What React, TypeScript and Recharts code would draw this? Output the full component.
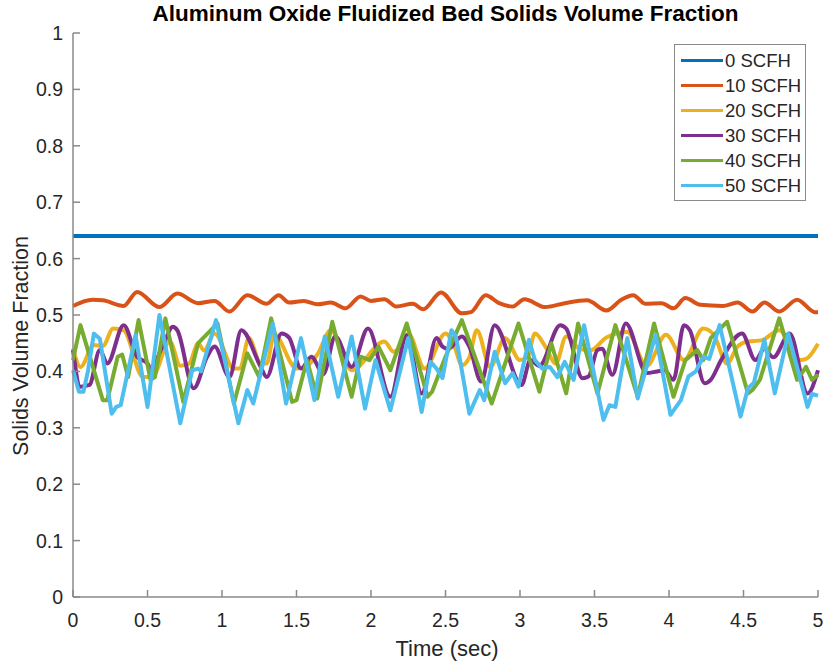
import { LineChart, Line, XAxis, YAxis } from "recharts"

const TIME_TICKS = [0, 0.5, 1, 1.5, 2, 2.5, 3, 3.5, 4, 4.5, 5]
const FRACTION_TICKS = [0, 0.1, 0.2, 0.3, 0.4, 0.5, 0.6, 0.7, 0.8, 0.9, 1]

const SERIES_NAMES = ["0 SCFH", "10 SCFH", "20 SCFH", "30 SCFH", "40 SCFH", "50 SCFH"]
const COLORS = ["#0072BD", "#D95319", "#EDB120", "#7E2F8E", "#77AC30", "#4DBEEE"]
const CURVES = ["linear", "monotone", "monotone", "monotone", "linear", "linear"] as const

// [time (sec), solids volume fraction]
const scfh0 = [[0, 0.64], [5, 0.64]]

const scfh10 = [
  [0, 0.516], [0.13, 0.527], [0.2, 0.526], [0.34, 0.516], [0.43, 0.541], [0.58, 0.514],
  [0.7, 0.538], [0.84, 0.521], [0.95, 0.525], [1.05, 0.506], [1.17, 0.535], [1.3, 0.52],
  [1.38, 0.535], [1.45, 0.522], [1.55, 0.525], [1.64, 0.519], [1.73, 0.522], [1.83, 0.512],
  [1.93, 0.533], [2.0, 0.525], [2.09, 0.528], [2.17, 0.515], [2.28, 0.52], [2.35, 0.51],
  [2.47, 0.54], [2.61, 0.503], [2.67, 0.505], [2.77, 0.535], [2.86, 0.521], [2.95, 0.515],
  [3.03, 0.528], [3.17, 0.514], [3.3, 0.521], [3.45, 0.526], [3.58, 0.508], [3.68, 0.527],
  [3.76, 0.535], [3.84, 0.52], [3.95, 0.521], [4.03, 0.512], [4.11, 0.53], [4.21, 0.518],
  [4.36, 0.516], [4.46, 0.522], [4.56, 0.506], [4.64, 0.522], [4.74, 0.506], [4.86, 0.527],
  [4.98, 0.505], [5, 0.505],
]

const scfh20 = [
  [0, 0.441], [0.05, 0.408], [0.14, 0.447], [0.2, 0.445], [0.27, 0.476], [0.34, 0.473],
  [0.47, 0.39], [0.53, 0.39], [0.65, 0.453], [0.72, 0.41], [0.78, 0.414], [0.84, 0.45],
  [0.88, 0.437], [0.95, 0.467], [1.08, 0.405], [1.12, 0.405], [1.18, 0.459], [1.26, 0.414],
  [1.3, 0.414], [1.35, 0.465], [1.5, 0.405], [1.57, 0.41], [1.64, 0.43], [1.73, 0.473],
  [1.87, 0.402], [2.09, 0.453], [2.15, 0.435], [2.2, 0.444], [2.25, 0.467], [2.36, 0.405],
  [2.5, 0.467], [2.56, 0.444], [2.61, 0.411], [2.66, 0.425], [2.71, 0.473], [2.8, 0.408],
  [2.9, 0.459], [3.0, 0.42], [3.05, 0.425], [3.1, 0.467], [3.17, 0.444], [3.24, 0.414],
  [3.31, 0.462], [3.4, 0.44], [3.47, 0.437], [3.58, 0.46], [3.72, 0.47], [3.85, 0.41],
  [3.98, 0.465], [4.1, 0.42], [4.23, 0.476], [4.3, 0.465], [4.39, 0.414], [4.46, 0.444],
  [4.53, 0.453], [4.62, 0.455], [4.74, 0.473], [4.88, 0.42], [4.92, 0.422], [5, 0.449],
]

const scfh30 = [
  [0, 0.438], [0.05, 0.373], [0.11, 0.376], [0.18, 0.438], [0.23, 0.414], [0.34, 0.482],
  [0.43, 0.426], [0.5, 0.414], [0.53, 0.4], [0.57, 0.426], [0.62, 0.456], [0.67, 0.479],
  [0.7, 0.473], [0.81, 0.37], [0.9, 0.426], [0.95, 0.444], [1.05, 0.39], [1.13, 0.473],
  [1.26, 0.408], [1.3, 0.39], [1.4, 0.467], [1.45, 0.46], [1.53, 0.405], [1.6, 0.426],
  [1.68, 0.395], [1.76, 0.462], [1.87, 0.408], [1.98, 0.476], [2.13, 0.355], [2.24, 0.464],
  [2.34, 0.361], [2.44, 0.459], [2.48, 0.444], [2.52, 0.44], [2.61, 0.462], [2.66, 0.444],
  [2.74, 0.382], [2.83, 0.482], [3.01, 0.376], [3.07, 0.42], [3.13, 0.41], [3.27, 0.482],
  [3.31, 0.476], [3.42, 0.388], [3.46, 0.391], [3.52, 0.438], [3.55, 0.44], [3.62, 0.394],
  [3.71, 0.485], [3.85, 0.397], [3.92, 0.4], [3.97, 0.402], [4.03, 0.385], [4.1, 0.482],
  [4.14, 0.473], [4.24, 0.379], [4.28, 0.385], [4.35, 0.42], [4.49, 0.467], [4.58, 0.42],
  [4.64, 0.44], [4.7, 0.425], [4.81, 0.467], [4.93, 0.361], [5, 0.402],
]

const scfh40 = [
  [0, 0.42], [0.05, 0.482], [0.2, 0.349], [0.23, 0.349], [0.3, 0.426], [0.33, 0.43],
  [0.37, 0.39], [0.44, 0.491], [0.52, 0.385], [0.55, 0.39], [0.62, 0.494], [0.74, 0.346],
  [0.84, 0.45], [0.97, 0.485], [1.08, 0.343], [1.17, 0.432], [1.25, 0.39], [1.33, 0.494],
  [1.47, 0.346], [1.5, 0.349], [1.57, 0.42], [1.64, 0.352], [1.74, 0.488], [1.87, 0.355],
  [1.93, 0.426], [1.99, 0.42], [2.05, 0.444], [2.13, 0.402], [2.24, 0.485], [2.38, 0.355],
  [2.41, 0.364], [2.5, 0.426], [2.61, 0.491], [2.81, 0.343], [2.99, 0.485], [3.13, 0.364],
  [3.21, 0.45], [3.31, 0.361], [3.39, 0.485], [3.52, 0.361], [3.64, 0.482], [3.79, 0.355],
  [3.9, 0.485], [4.03, 0.355], [4.11, 0.42], [4.19, 0.438], [4.23, 0.42], [4.28, 0.459],
  [4.39, 0.488], [4.53, 0.361], [4.56, 0.367], [4.61, 0.385], [4.74, 0.494], [4.86, 0.385],
  [4.92, 0.408], [4.96, 0.385], [5, 0.394],
]

const scfh50 = [
  [0, 0.402], [0.04, 0.364], [0.07, 0.364], [0.1, 0.4], [0.14, 0.467], [0.18, 0.458],
  [0.26, 0.325], [0.29, 0.337], [0.32, 0.34], [0.42, 0.464], [0.5, 0.337], [0.58, 0.5],
  [0.72, 0.308], [0.8, 0.402], [0.84, 0.405], [0.86, 0.4], [0.96, 0.491], [1.11, 0.308],
  [1.17, 0.367], [1.21, 0.343], [1.34, 0.485], [1.43, 0.343], [1.53, 0.459], [1.62, 0.349],
  [1.69, 0.462], [1.78, 0.355], [1.87, 0.462], [1.96, 0.334], [2.03, 0.42], [2.13, 0.331],
  [2.25, 0.459], [2.34, 0.328], [2.4, 0.417], [2.44, 0.405], [2.48, 0.388], [2.54, 0.473],
  [2.57, 0.462], [2.66, 0.325], [2.7, 0.349], [2.73, 0.367], [2.76, 0.349], [2.83, 0.435],
  [2.9, 0.379], [2.95, 0.397], [2.99, 0.373], [3.06, 0.456], [3.1, 0.42], [3.15, 0.405],
  [3.2, 0.408], [3.25, 0.39], [3.3, 0.417], [3.36, 0.385], [3.43, 0.482], [3.56, 0.314],
  [3.6, 0.34], [3.64, 0.337], [3.72, 0.459], [3.79, 0.352], [3.91, 0.465], [4.01, 0.323],
  [4.08, 0.349], [4.13, 0.391], [4.18, 0.4], [4.23, 0.426], [4.27, 0.422], [4.34, 0.482],
  [4.48, 0.32], [4.53, 0.37], [4.57, 0.38], [4.64, 0.456], [4.71, 0.361], [4.8, 0.467],
  [4.93, 0.337], [4.96, 0.36], [5, 0.357],
]

const SERIES = [scfh0, scfh10, scfh20, scfh30, scfh40, scfh50].map((rows) =>
  rows.map(([t, v]) => ({ t, v }))
)

const FONT = '"Liberation Sans", Arial, Helvetica, sans-serif'
const FRAME = "#8a8a8a"
const TEXT = "#262626"

export default function App() {
  return (
    <div style={{ position: "absolute", left: 0, top: 0, width: 827, height: 663, background: "#fff", fontFamily: FONT }}>
      <div
        style={{
          position: "absolute",
          left: 73,
          width: 745,
          top: 1,
          textAlign: "center",
          fontWeight: "bold",
          fontSize: 22.5,
          color: "#000",
        }}
      >
        Aluminum Oxide Fluidized Bed Solids Volume Fraction
      </div>

      <LineChart width={827} height={663} margin={{ top: 33, right: 9, bottom: 0, left: 0 }}>
        <XAxis
          dataKey="t"
          type="number"
          domain={[0, 5]}
          ticks={TIME_TICKS}
          allowDuplicatedCategory={false}
          height={66}
          stroke={FRAME}
          strokeWidth={1.5}
          tickSize={-7}
          tickMargin={23}
          tick={{ fill: TEXT, fontSize: 19.5, fontFamily: FONT }}
          label={{
            content: () => (
              <text x={447} y={656} textAnchor="middle" fill={TEXT} fontSize={22} fontFamily={FONT}>
                Time (sec)
              </text>
            ),
          }}
        />
        <XAxis
          xAxisId="top"
          orientation="top"
          type="number"
          domain={[0, 5]}
          ticks={TIME_TICKS}
          height={0}
          stroke={FRAME}
          strokeWidth={1.5}
          tickSize={-7}
          tick={false}
        />
        <YAxis
          dataKey="v"
          type="number"
          domain={[0, 1]}
          ticks={FRACTION_TICKS}
          width={73}
          stroke={FRAME}
          strokeWidth={1.5}
          tickSize={-7}
          tickMargin={17}
          tick={{ fill: TEXT, fontSize: 19.5, fontFamily: FONT }}
          label={{
            content: () => (
              <text
                x={28}
                y={346}
                transform="rotate(-90 28 346)"
                textAnchor="middle"
                fill={TEXT}
                fontSize={21.5}
                fontFamily={FONT}
              >
                Solids Volume Fraction
              </text>
            ),
          }}
        />
        <YAxis
          yAxisId="right"
          orientation="right"
          type="number"
          domain={[0, 1]}
          ticks={FRACTION_TICKS}
          width={0}
          stroke={FRAME}
          strokeWidth={1.5}
          tickSize={-7}
          tick={false}
        />
        {SERIES.map((data, i) => (
          <Line
            key={SERIES_NAMES[i]}
            data={data}
            dataKey="v"
            name={SERIES_NAMES[i]}
            type={CURVES[i]}
            stroke={COLORS[i]}
            strokeWidth={4}
            strokeLinejoin="round"
            dot={false}
            activeDot={false}
            isAnimationActive={false}
          />
        ))}
      </LineChart>

      <div
        style={{
          position: "absolute",
          left: 674,
          top: 44,
          width: 132,
          height: 157,
          border: `1.5px solid ${FRAME}`,
          background: "#fff",
          paddingTop: 3,
          boxSizing: "border-box",
        }}
      >
        {SERIES_NAMES.map((name, i) => (
          <div key={name} style={{ display: "flex", alignItems: "center", height: 25 }}>
            <div style={{ marginLeft: 6, width: 42, height: 3.5, background: COLORS[i] }} />
            <span style={{ marginLeft: 2, fontSize: 18.5, color: TEXT, lineHeight: "25px" }}>{name}</span>
          </div>
        ))}
      </div>
    </div>
  )
}
